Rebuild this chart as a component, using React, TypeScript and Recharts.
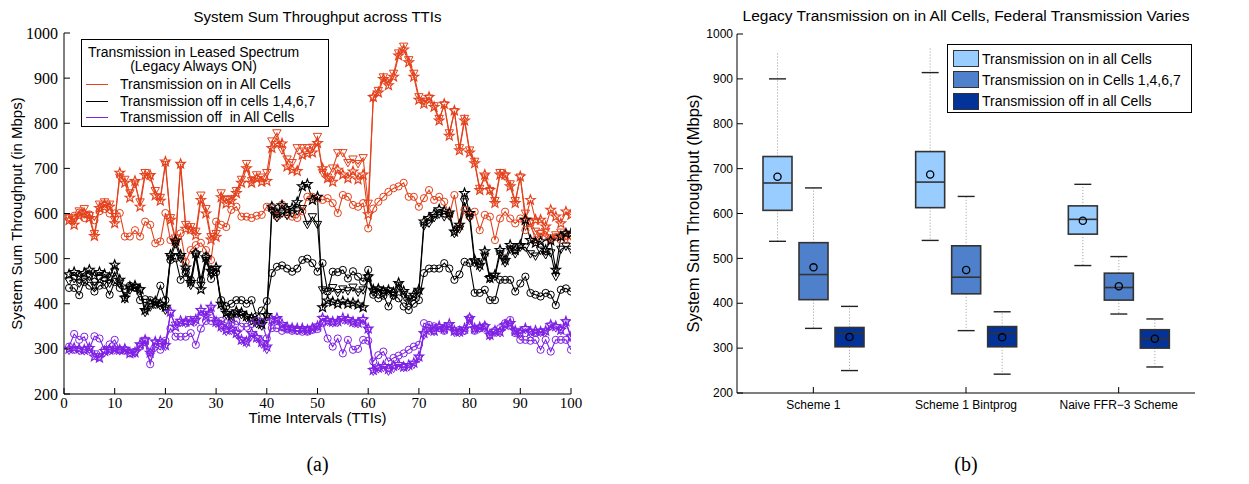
import React from 'react';
import { LineChart, Line, XAxis, YAxis, Legend, ComposedChart, Bar, Label } from 'recharts';

const SANS = '"Liberation Sans", Arial, Helvetica, sans-serif';
const SERIF = '"Liberation Serif", "Times New Roman", serif';
const ORANGE = '#E4421C';
const BLACK = '#000000';
const PURPLE = '#7F22E4';
const LIGHT = '#99CCFF';
const MID = '#4F80CC';
const DARK = '#033399';
const TICK_LEN = 6;

// ---------------- Figure (a): throughput across TTIs ----------------
const ttiIndex: number[] = Array.from({ length: 100 }, (_, i) => i + 1);
const xTicksA = [0, 10, 20, 30, 40, 50, 60, 70, 80, 90, 100];
const yTicks = [200, 300, 400, 500, 600, 700, 800, 900, 1000];

// Transmission on in All Cells
const onAllStar = [
  585, 575, 595, 600, 590, 550, 612, 620, 615, 578,
  690, 668, 635, 672, 615, 685, 685, 640, 628, 715,
  586, 540, 710, 566, 565, 552, 630, 600, 542, 548,
  636, 622, 628, 645, 668, 700, 668, 678, 670, 672,
  745, 756, 755, 704, 697, 694, 730, 733, 735, 756,
  700, 678, 670, 697, 686, 678, 693, 675, 686, 598,
  858, 868, 898, 884, 903, 950, 963, 935, 903, 852,
  843, 858, 836, 806, 843, 772, 828, 740, 806, 735,
  711, 652, 686, 652, 623, 686, 686, 660, 623, 682,
  586, 630, 586, 586, 571, 608, 593, 578, 604, 597,
];
const onAllTri = [
  590, 585, 605, 610, 595, 555, 620, 625, 620, 585,
  680, 675, 645, 665, 625, 690, 680, 650, 635, 708,
  590, 545, 705, 575, 570, 560, 640, 610, 548, 555,
  645, 630, 632, 650, 675, 710, 672, 685, 680, 690,
  760, 778, 740, 720, 712, 745, 745, 745, 746, 770,
  690, 680, 700, 734, 734, 712, 720, 710, 723, 622,
  855, 872, 902, 890, 910, 955, 970, 940, 910, 858,
  848, 855, 838, 810, 840, 778, 825, 745, 810, 740,
  715, 655, 680, 650, 628, 690, 682, 665, 628, 680,
  600, 580, 560, 555, 560, 545, 552, 558, 542, 550,
];
const onAllCirc = [
  590, 595, 602, 590, 598, 585, 605, 610, 600, 600,
  601, 549, 549, 563, 549, 582, 575, 534, 538, 601,
  541, 535, 556, 493, 519, 530, 535, 519, 497, 582,
  575, 570, 608, 615, 593, 593, 590, 595, 597, 615,
  615, 593, 620, 598, 593, 590, 605, 637, 637, 634,
  630, 634, 623, 601, 641, 637, 619, 615, 623, 567,
  611, 626, 637, 648, 656, 660, 668, 637, 637, 615,
  634, 652, 630, 637, 626, 597, 641, 571, 608, 593,
  604, 563, 597, 593, 541, 589, 604, 589, 578, 589,
  563, 578, 541, 556, 548, 541, 548, 541, 556, 541,
];

// Transmission off in cells 1,4,6,7
const off1467Star = [
  465, 470, 460, 468, 475, 462, 470, 465, 458, 486,
  453, 413, 438, 440, 432, 386, 400, 405, 400, 393,
  508, 540, 508, 480, 448, 512, 432, 503, 473, 480,
  400, 380, 372, 383, 380, 372, 368, 360, 355, 375,
  615, 600, 618, 608, 612, 625, 660, 665, 630, 637,
  392, 407, 404, 400, 405, 400, 402, 398, 392, 460,
  431, 433, 428, 430, 425, 446, 428, 405, 420, 431,
  582, 590, 599, 609, 605, 602, 560, 575, 645, 601,
  497, 486, 516, 457, 464, 519, 497, 530, 519, 530,
  586, 541, 535, 538, 519, 540, 475, 549, 556, 556,
];
const off1467Tri = [
  450, 455, 445, 452, 460, 440, 455, 450, 445, 470,
  445, 410, 430, 435, 428, 380, 392, 398, 395, 385,
  500, 532, 500, 470, 440, 505, 440, 495, 468, 475,
  395, 375, 368, 378, 375, 368, 362, 355, 350, 370,
  605, 590, 600, 595, 600, 605, 610, 575, 592, 575,
  430, 427, 435, 424, 432, 428, 436, 425, 430, 457,
  425, 430, 422, 428, 418, 440, 420, 410, 415, 425,
  572, 578, 590, 598, 592, 594, 555, 565, 625, 590,
  490, 480, 505, 455, 460, 510, 490, 520, 510, 525,
  525, 510, 505, 518, 508, 512, 460, 520, 527, 520,
];
const off1467Circ = [
  435, 435, 419, 448, 440, 427, 440, 442, 420, 448,
  435, 432, 440, 436, 408, 410, 408, 404, 440, 408,
  497, 501, 453, 468, 453, 512, 453, 505, 455, 470,
  408, 394, 400, 408, 408, 400, 408, 372, 385, 406,
  468, 482, 485, 478, 471, 478, 497, 500, 490, 471,
  490, 427, 471, 470, 475, 456, 472, 460, 449, 475,
  420, 412, 418, 394, 418, 412, 394, 386, 400, 408,
  468, 478, 478, 478, 490, 478, 453, 465, 493, 490,
  424, 424, 431, 408, 408, 453, 453, 453, 427, 445,
  460, 424, 420, 416, 424, 420, 397, 431, 434, 427,
];

// Transmission off in All Cells
const offAllStar = [
  300, 302, 300, 298, 302, 283, 280, 295, 298, 300,
  298, 300, 290, 292, 310, 320, 291, 316, 317, 308,
  382, 349, 362, 360, 360, 365, 386, 372, 393, 360,
  350, 342, 345, 335, 320, 316, 335, 325, 315, 305,
  364, 368, 355, 348, 346, 345, 345, 342, 346, 350,
  368, 362, 360, 361, 368, 365, 360, 358, 365, 345,
  253, 258, 262, 255, 262, 266, 260, 264, 269, 283,
  335, 345, 340, 350, 345, 355, 340, 338, 345, 368,
  345, 348, 350, 331, 340, 338, 353, 357, 340, 336,
  345, 338, 340, 338, 340, 353, 350, 342, 361, 327,
];
const offAllTri = [
  296, 298, 296, 295, 298, 288, 282, 292, 295, 297,
  295, 296, 292, 290, 305, 318, 283, 312, 312, 305,
  378, 352, 358, 356, 364, 360, 382, 375, 388, 356,
  346, 338, 340, 333, 318, 312, 330, 322, 310, 298,
  360, 362, 350, 345, 343, 340, 342, 340, 343, 348,
  365, 360, 357, 358, 364, 362, 357, 355, 362, 340,
  250, 255, 258, 250, 256, 262, 258, 260, 265, 278,
  330, 340, 338, 346, 342, 350, 336, 335, 340, 362,
  342, 345, 346, 328, 336, 335, 350, 352, 338, 333,
  342, 335, 336, 336, 337, 350, 346, 340, 357, 325,
];
const offAllCirc = [
  305, 333, 320, 327, 300, 328, 323, 298, 310, 320,
  298, 298, 290, 294, 305, 315, 266, 305, 298, 318,
  345, 327, 327, 327, 335, 309, 345, 362, 362, 362,
  362, 357, 357, 362, 349, 349, 355, 362, 360, 323,
  346, 346, 340, 343, 340, 340, 338, 338, 342, 344,
  357, 323, 305, 323, 290, 320, 298, 300, 320, 318,
  272, 286, 294, 272, 280, 285, 290, 298, 305, 309,
  357, 353, 350, 346, 340, 350, 340, 342, 340, 368,
  340, 346, 350, 331, 340, 346, 357, 364, 335, 320,
  320, 318, 320, 298, 320, 294, 320, 320, 320, 298,
];

const lineData = ttiIndex.map((t, i) => ({
  t,
  os: onAllStar[i], ot: onAllTri[i], oc: onAllCirc[i],
  bs: off1467Star[i], bt: off1467Tri[i], bc: off1467Circ[i],
  ps: offAllStar[i], pt: offAllTri[i], pc: offAllCirc[i],
}));

const legendEntriesA = [
  { label: 'Transmission on in All Cells', color: ORANGE },
  { label: 'Transmission off in cells 1,4,6,7', color: BLACK },
  { label: 'Transmission off  in All Cells', color: PURPLE },
];

// ---------------- Figure (b): box plots ----------------
const schemes = ['Scheme 1', 'Scheme 1 Bintprog', 'Naive FFR\u22123 Scheme'];

const allOnLo = [538, 540, 484];
const allOnQ1 = [607, 613, 554];
const allOnMed = [668, 670, 587];
const allOnQ3 = [727, 738, 617];
const allOnHi = [900, 914, 665];
const allOnMean = [682, 687, 584];
const allOnExt = [957, 971, 665];

const partLo = [344, 339, 376];
const partQ1 = [408, 421, 407];
const partMed = [464, 458, 435];
const partQ3 = [535, 528, 467];
const partHi = [657, 638, 504];
const partMean = [480, 474, 438];
const partExt = [657, 638, 504];

const offLo = [250, 242, 258];
const offQ1 = [303, 303, 300];
const offMed = [333, 333, 321];
const offQ3 = [346, 348, 341];
const offHi = [393, 381, 365];
const offMean = [325, 324, 321];
const offExt = [393, 381, 365];

const legendEntriesB = [
  { label: 'Transmission on in all Cells', color: LIGHT },
  { label: 'Transmission on in Cells 1,4,6,7', color: MID },
  { label: 'Transmission off in all Cells', color: DARK },
];

type BoxStats = { lo: number; q1: number; med: number; q3: number; hi: number; mean: number; ext: number };
const boxData = schemes.map((name, i) => ({
  name,
  allOn: { lo: allOnLo[i], q1: allOnQ1[i], med: allOnMed[i], q3: allOnQ3[i], hi: allOnHi[i], mean: allOnMean[i], ext: allOnExt[i] } as BoxStats,
  part: { lo: partLo[i], q1: partQ1[i], med: partMed[i], q3: partQ3[i], hi: partHi[i], mean: partMean[i], ext: partExt[i] } as BoxStats,
  off: { lo: offLo[i], q1: offQ1[i], med: offMed[i], q3: offQ3[i], hi: offHi[i], mean: offMean[i], ext: offExt[i] } as BoxStats,
}));

// ---------------- markers ----------------
function starPath(cx: number, cy: number, r: number) {
  let d = '';
  for (let k = 0; k < 10; k++) {
    const ang = -Math.PI / 2 + (k * Math.PI) / 5;
    const rr = k % 2 === 0 ? r : r * 0.42;
    d += (k === 0 ? 'M' : 'L') + (cx + rr * Math.cos(ang)).toFixed(2) + ',' + (cy + rr * Math.sin(ang)).toFixed(2);
  }
  return d + 'Z';
}

const makeDot = (kind: 'star' | 'tri' | 'circ', color: string, id: string) => (p: any) => {
  const key = `${id}-${p.index}`;
  if (p.cx == null || p.cy == null) return <g key={key} />;
  const { cx, cy } = p;
  if (kind === 'star') return <path key={key} d={starPath(cx, cy, 5)} fill="none" stroke={color} strokeWidth={1.2} />;
  if (kind === 'tri')
    return <path key={key} d={`M${cx - 4.2},${cy - 3.4}L${cx + 4.2},${cy - 3.4}L${cx},${cy + 4}Z`} fill="none" stroke={color} strokeWidth={1} />;
  return <circle key={key} cx={cx} cy={cy} r={3.6} fill="none" stroke={color} strokeWidth={1} />;
};

// ---------------- ticks ----------------
const bottomTick = (font: string, size: number, margin: number) => (p: any) => {
  const axisY = p.y - margin;
  return (
    <g>
      <line x1={p.x} x2={p.x} y1={axisY} y2={axisY - TICK_LEN} stroke="#000" strokeWidth={1} />
      <text x={p.x} y={p.y} dy="0.75em" textAnchor="middle" fontFamily={font} fontSize={size} fill="#000">
        {p.payload.value}
      </text>
    </g>
  );
};
const leftTick = (font: string, size: number, margin: number) => (p: any) => {
  const axisX = p.x + margin;
  return (
    <g>
      <line x1={axisX} x2={axisX + TICK_LEN} y1={p.y} y2={p.y} stroke="#000" strokeWidth={1} />
      <text x={p.x} y={p.y} dy="0.35em" textAnchor="end" fontFamily={font} fontSize={size} fill="#000">
        {p.payload.value}
      </text>
    </g>
  );
};
const topTick = (p: any) => <line x1={p.x} x2={p.x} y1={p.y} y2={p.y + TICK_LEN} stroke="#000" strokeWidth={1} />;
const rightTick = (p: any) => <line x1={p.x} x2={p.x - TICK_LEN} y1={p.y} y2={p.y} stroke="#000" strokeWidth={1} />;

// ---------------- box shape ----------------
const boxShape = (key: 'allOn' | 'part' | 'off', fill: string) => (props: any) => {
  const { x, y, width, height, payload } = props;
  const s: BoxStats = payload[key];
  const py = (v: number) => y + (height * (s.ext - v)) / (s.ext - s.lo);
  const cx = x + width / 2;
  const capHalf = 8.5;
  return (
    <g>
      <line x1={cx} x2={cx} y1={py(s.q3)} y2={py(s.ext)} stroke="#9a9a9a" strokeWidth={1} strokeDasharray="1 2" />
      <line x1={cx} x2={cx} y1={py(s.q1)} y2={py(s.lo)} stroke="#9a9a9a" strokeWidth={1} strokeDasharray="1 2" />
      <line x1={cx - capHalf} x2={cx + capHalf} y1={py(s.hi)} y2={py(s.hi)} stroke="#222" strokeWidth={1.4} />
      <line x1={cx - capHalf} x2={cx + capHalf} y1={py(s.lo)} y2={py(s.lo)} stroke="#222" strokeWidth={1.4} />
      <rect x={x} y={py(s.q3)} width={width} height={py(s.q1) - py(s.q3)} fill={fill} stroke="#333" strokeWidth={1.6} />
      <line x1={x} x2={x + width} y1={py(s.med)} y2={py(s.med)} stroke="#333" strokeWidth={1.6} />
      <circle cx={cx} cy={py(s.mean)} r={3.6} fill="none" stroke="#000" strokeWidth={1.3} />
    </g>
  );
};

// ---------------- legends ----------------
const LegendA = () => (
  <div style={{ position: 'relative', boxSizing: 'border-box', width: 248, height: 88, border: '1px solid #000', background: '#fff', fontFamily: SANS, fontSize: 14, color: '#000' }}>
    <div style={{ position: 'absolute', left: 6, top: 5, textAlign: 'center', lineHeight: '14px', whiteSpace: 'pre' }}>
      <div>Transmission in Leased Spectrum</div>
      <div>(Legacy Always ON)</div>
    </div>
    {legendEntriesA.map((e, i) => (
      <div key={e.label} style={{ position: 'absolute', left: 4, top: [44, 61, 77][i] - 8, height: 16, display: 'flex', alignItems: 'center', whiteSpace: 'pre' }}>
        <span style={{ display: 'inline-block', width: 22, height: 0, borderTop: `1.5px solid ${e.color}`, marginRight: 12 }} />
        <span style={{ lineHeight: '16px' }}>{e.label}</span>
      </div>
    ))}
  </div>
);

const LegendB = () => (
  <div style={{ position: 'relative', boxSizing: 'border-box', width: 245, height: 69, border: '1px solid #000', background: '#fff', fontFamily: SANS, fontSize: 14, color: '#000' }}>
    {legendEntriesB.map((e, i) => (
      <div key={e.label} style={{ position: 'absolute', left: 5, top: [13.5, 34.5, 56][i] - 9, height: 18, display: 'flex', alignItems: 'center', whiteSpace: 'pre' }}>
        <span style={{ display: 'inline-block', boxSizing: 'border-box', width: 26, height: 17, background: e.color, border: '1px solid #333', marginRight: 3 }} />
        <span style={{ lineHeight: '18px' }}>{e.label}</span>
      </div>
    ))}
  </div>
);

const seriesA: { key: string; kind: 'star' | 'tri' | 'circ'; color: string }[] = [
  { key: 'os', kind: 'star', color: ORANGE },
  { key: 'ot', kind: 'tri', color: ORANGE },
  { key: 'oc', kind: 'circ', color: ORANGE },
  { key: 'bs', kind: 'star', color: BLACK },
  { key: 'bt', kind: 'tri', color: BLACK },
  { key: 'bc', kind: 'circ', color: BLACK },
  { key: 'ps', kind: 'star', color: PURPLE },
  { key: 'pt', kind: 'tri', color: PURPLE },
  { key: 'pc', kind: 'circ', color: PURPLE },
];

export default function App() {
  return (
    <div style={{ position: 'absolute', left: 0, top: 0, width: 1249, height: 484, background: '#fff', overflow: 'hidden' }}>
      {/* Figure (a) */}
      <div style={{ position: 'absolute', left: 64, top: 7, width: 507, textAlign: 'center', fontFamily: SANS, fontSize: 15, lineHeight: '19px', color: '#000' }}>
        System Sum Throughput across TTIs
      </div>
      <div style={{ position: 'absolute', left: 0, top: 0 }}>
        <LineChart width={620} height={484} data={lineData} margin={{ top: 33, right: 49, bottom: 61, left: 0 }}>
          <XAxis dataKey="t" type="number" domain={[0, 100]} ticks={xTicksA} interval={0} allowDataOverflow
            tickSize={0} tickMargin={3} tickLine={false} axisLine={{ stroke: '#000' }} height={29}
            tick={bottomTick(SERIF, 15, 3)}>
            <Label value="Time Intervals (TTIs)" position="insideBottom" offset={0} style={{ fontFamily: SANS, fontSize: 15, fill: '#000' }} />
          </XAxis>
          <XAxis xAxisId="top" orientation="top" dataKey="t" type="number" domain={[0, 100]} ticks={xTicksA} interval={0} allowDataOverflow
            tickSize={0} tickMargin={0} tickLine={false} axisLine={{ stroke: '#000' }} height={0} tick={topTick} />
          <YAxis type="number" domain={[200, 1000]} ticks={yTicks} interval={0} allowDataOverflow width={64}
            tickSize={0} tickMargin={6} tickLine={false} axisLine={{ stroke: '#000' }} tick={leftTick(SERIF, 16, 6)}>
            <Label value="System Sum Throughput (in Mbps)" angle={-90} position="insideLeft" offset={17}
              style={{ textAnchor: 'middle', fontFamily: SANS, fontSize: 15, fill: '#000' }} />
          </YAxis>
          <YAxis yAxisId="right" orientation="right" type="number" domain={[200, 1000]} ticks={yTicks} interval={0} allowDataOverflow width={0}
            tickSize={0} tickMargin={0} tickLine={false} axisLine={{ stroke: '#000' }} tick={rightTick} />
          {seriesA.map((s) => (
            <Line key={s.key} dataKey={s.key} type="linear" stroke={s.color} strokeWidth={1.1}
              dot={makeDot(s.kind, s.color, s.key)} activeDot={false} isAnimationActive={false} />
          ))}
          <Legend layout="horizontal" verticalAlign="middle" align="center" content={() => <LegendA />}
            wrapperStyle={{ position: 'absolute', left: 81, top: 39, width: 248, height: 88 }} />
        </LineChart>
      </div>
      <div style={{ position: 'absolute', left: 64, top: 451, width: 507, textAlign: 'center', fontFamily: SERIF, fontSize: 20, lineHeight: '26px', color: '#000' }}>
        (a)
      </div>

      {/* Figure (b) */}
      <div style={{ position: 'absolute', left: 716, top: 6, width: 500, textAlign: 'center', fontFamily: SANS, fontSize: 15.5, lineHeight: '19px', color: '#000', whiteSpace: 'nowrap' }}>
        Legacy Transmission on in All Cells, Federal Transmission Varies
      </div>
      <div style={{ position: 'absolute', left: 630, top: 0 }}>
        <ComposedChart width={619} height={484} data={boxData} barGap={7} margin={{ top: 34, right: 54, bottom: 61, left: 50 }}>
          <XAxis dataKey="name" type="category" interval={0} tickSize={0} tickMargin={7} tickLine={false}
            axisLine={{ stroke: '#000' }} height={30} tick={bottomTick(SANS, 12, 7)} />
          <XAxis xAxisId="top" orientation="top" dataKey="name" type="category" interval={0} tickSize={0} tickMargin={0}
            tickLine={false} axisLine={{ stroke: '#000' }} height={0} tick={topTick} />
          <YAxis type="number" domain={[200, 1000]} ticks={yTicks} interval={0} allowDataOverflow width={57}
            tickSize={0} tickMargin={4} tickLine={false} axisLine={{ stroke: '#000' }} tick={leftTick(SANS, 12, 4)}>
            <Label value="System Sum Throughput (Mbps)" angle={-90} position="insideLeft" offset={13}
              style={{ textAnchor: 'middle', fontFamily: SANS, fontSize: 16.5, fill: '#000' }} />
          </YAxis>
          <YAxis yAxisId="right" orientation="right" type="number" domain={[200, 1000]} ticks={yTicks} interval={0} allowDataOverflow width={0}
            tickSize={0} tickMargin={0} tickLine={false} axisLine={{ stroke: '#000' }} tick={rightTick} />
          <Bar dataKey={(d: any) => [d.allOn.lo, d.allOn.ext]} barSize={29} fill={LIGHT} shape={boxShape('allOn', LIGHT)} isAnimationActive={false} />
          <Bar dataKey={(d: any) => [d.part.lo, d.part.ext]} barSize={29} fill={MID} shape={boxShape('part', MID)} isAnimationActive={false} />
          <Bar dataKey={(d: any) => [d.off.lo, d.off.ext]} barSize={29} fill={DARK} shape={boxShape('off', DARK)} isAnimationActive={false} />
          <Legend layout="horizontal" verticalAlign="middle" align="center" content={() => <LegendB />}
            wrapperStyle={{ position: 'absolute', left: 317, top: 44, width: 245, height: 69 }} />
        </ComposedChart>
      </div>
      <div style={{ position: 'absolute', left: 737, top: 451, width: 458, textAlign: 'center', fontFamily: SERIF, fontSize: 20, lineHeight: '26px', color: '#000' }}>
        (b)
      </div>
    </div>
  );
}
